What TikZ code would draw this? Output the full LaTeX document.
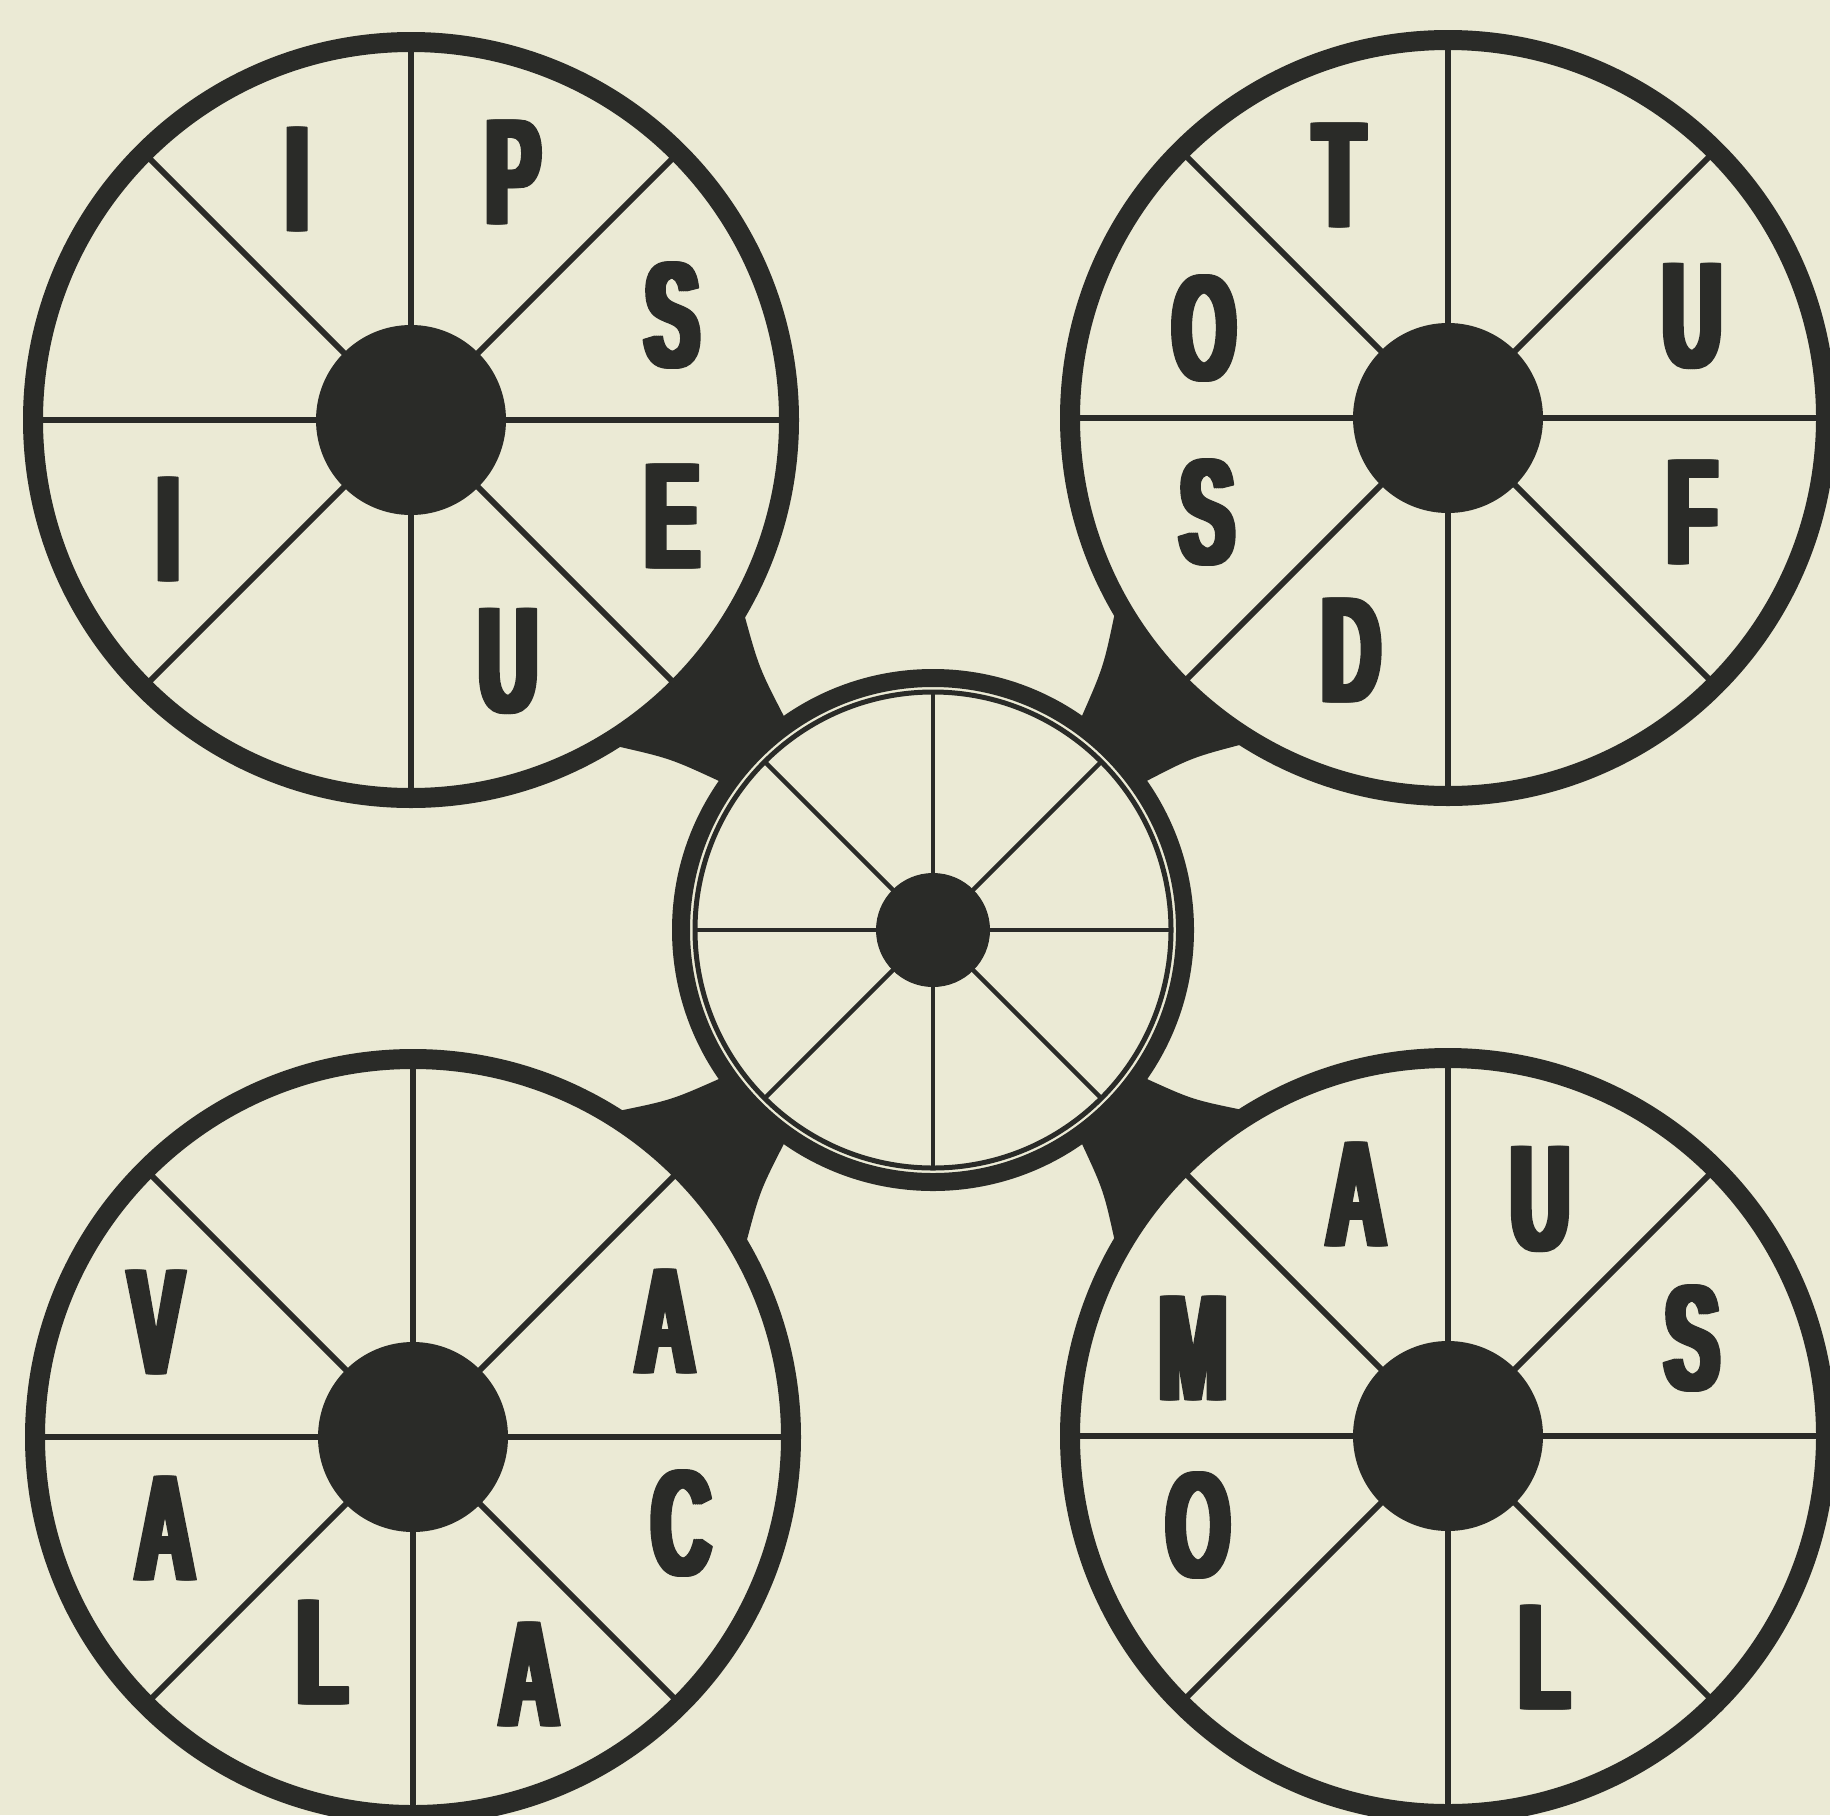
\documentclass[tikz,border=0pt]{standalone}
\usepackage{fontspec}
\usetikzlibrary{calc}
\newfontfamily\letfont{Liberation Sans Bold}[FakeStretch=0.545,FakeBold=1]
\definecolor{paper}{RGB}{235,234,213}
\definecolor{ink}{RGB}{42,43,40}
\newcommand{\hb}[1]{\rlap{#1}\kern0.95pt\rlap{#1}\kern0.95pt\rlap{#1}\kern0.95pt\rlap{#1}\kern0.95pt#1}
\tikzset{
  spokeline/.style={draw=ink,line width=2.9pt},
  cspokeline/.style={draw=ink,line width=2.2pt},
  letter/.style={inner sep=0pt,text=ink,line join=round,font=\letfont\fontsize{75}{75}\selectfont},
}
\newcommand{\bigwheel}[1]{%
  \fill[paper] (#1) circle[radius=378];
  \foreach \a in {0,45,...,315}
    \draw[spokeline] ($(#1)+(\a:90)$) -- ($(#1)+(\a:372)$);
  \fill[ink] (#1) circle[radius=95];
  \draw[ink,line width=10pt] (#1) circle[radius=378];
}
\newcommand{\wconn}[6]{%
  \path ($(#1)+(#2:384)$) coordinate (p1)
        ($(cw)+(#4:257)$) coordinate (p2)
        ($(cw)+(#5:257)$) coordinate (p3)
        ($(#1)+(#3:384)$) coordinate (p4);
  \fill[ink] (p1) .. controls ($(p1)!0.5!(p2)!3pt!#6:(p2)$) .. (p2)
     -- (p3) .. controls ($(p3)!0.5!(p4)!3pt!#6:(p4)$) .. (p4) -- cycle;
}
\begin{document}
\begin{tikzpicture}[x=0.5pt,y=-0.5pt]
\useasboundingbox (0,0) rectangle (1830,1815);
\clip (0,0) rectangle (1830,1815);
\fill[paper] (0,0) rectangle (1830,1815);
\coordinate (tl) at (411,420);
\coordinate (tr) at (1448,418);
\coordinate (bl) at (413,1437);
\coordinate (br) at (1448,1436);
\coordinate (cw) at (933,930);
% connectors
\wconn{tl}{30}{58}{235}{215}{-90}
\wconn{tr}{150}{122}{305}{325}{90}
\wconn{bl}{330}{302}{125}{145}{90}
\wconn{br}{210}{238}{55}{35}{-90}
% corner wheels
\bigwheel{tl}
\bigwheel{tr}
\bigwheel{bl}
\bigwheel{br}
% centre wheel
\fill[paper] (cw) circle[radius=252];
\foreach \a in {0,45,...,315}
  \draw[cspokeline] ($(cw)+(\a:55)$) -- ($(cw)+(\a:238)$);
\fill[ink] (cw) circle[radius=57];
\draw[ink,line width=9pt] (cw) circle[radius=252];
\draw[ink,line width=2.5pt] (cw) circle[radius=238];
% letters
\node[letter] (tl1) at (297,179) {\hb{I}};
\node[letter] (tl2) at (513,172) {\hb{P}};
\node[letter] (tl3) at (672,315) {\hb{S}};
\node[letter] (tl4) at (672,516) {\hb{E}};
\node[letter] (tl5) at (508,661) {\hb{U}};
\node[letter] (tl6) at (168,529) {\hb{I}};
\node[letter] (tr1) at (1339,175) {\hb{T}};
\node[letter] (tr2) at (1692,316) {\hb{U}};
\node[letter] (tr3) at (1204,328) {\hb{O}};
\node[letter] (tr4) at (1207,512) {\hb{S}};
\node[letter] (tr5) at (1692,512) {\hb{F}};
\node[letter] (tr6) at (1351,650) {\hb{D}};
\node[letter] (bl1) at (156,1322) {\hb{V}};
\node[letter] (bl2) at (165,1528) {\hb{A}};
\node[letter] (bl3) at (322,1652) {\hb{L}};
\node[letter] (bl4) at (529,1674) {\hb{A}};
\node[letter] (bl5) at (681,1523) {\hb{C}};
\node[letter] (bl6) at (665,1321) {\hb{A}};
\node[letter] (br1) at (1356,1194) {\hb{A}};
\node[letter] (br2) at (1540,1199) {\hb{U}};
\node[letter] (br3) at (1193,1348) {\hb{M}};
\node[letter] (br4) at (1692,1338) {\hb{S}};
\node[letter] (br5) at (1198,1525) {\hb{O}};
\node[letter] (br6) at (1544,1657) {\hb{L}};
\end{tikzpicture}
\end{document}
